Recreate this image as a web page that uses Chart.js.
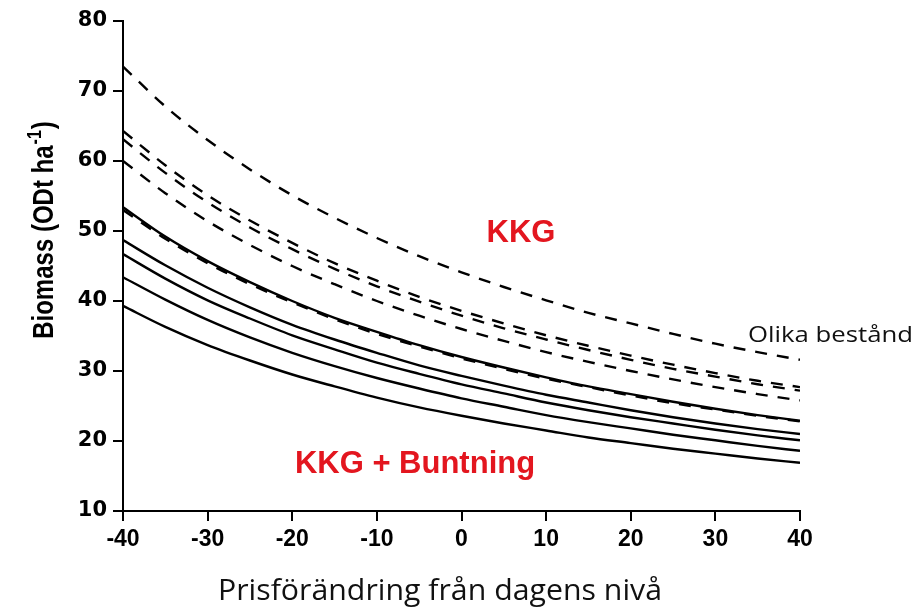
<!DOCTYPE html>
<html><head><meta charset="utf-8">
<script src="https://cdn.jsdelivr.net/npm/chart.js@4"></script>
<style>html,body{margin:0;padding:0;background:#fff}#wrap{width:917px;height:608px}</style>
</head><body><div id="wrap"><canvas id="c" width="917" height="608"></canvas></div>
<script>
// Price change from today's level (%)
const xValues = [-40,-35,-30,-25,-20,-15,-10,-5,0,5,10,15,20,25,30,35,40];
// KKG (dashed) – different stands
const kkg1 = [73.5,67.8,63.0,58.8,55.1,51.9,49.0,46.4,44.1,42.0,40.1,38.3,36.8,35.3,33.9,32.7,31.6];
const kkg2 = [64.3,59.4,55.1,51.5,48.3,45.4,42.9,40.6,38.6,36.8,35.1,33.6,32.2,30.9,29.7,28.6,27.7];
const kkg3 = [63.1,58.3,54.1,50.5,47.4,44.6,42.1,39.9,37.9,36.1,34.5,33.0,31.6,30.3,29.2,28.1,27.2];
const kkg4 = [60.0,55.4,51.4,48.0,45.0,42.4,40.0,37.9,36.0,34.3,32.7,31.3,30.0,28.8,27.7,26.7,25.8];
const kkg5 = [53.0,48.9,45.4,42.4,39.8,37.4,35.3,33.5,31.8,30.3,28.9,27.7,26.5,25.4,24.5,23.6,22.8];
// KKG + Buntning (solid)
const bunt1 = [53.4,49.2,45.7,42.7,40.0,37.6,35.6,33.7,32.0,30.5,29.1,27.8,26.7,25.6,24.6,23.7,22.9];
const bunt2 = [48.7,45.1,41.9,39.1,36.6,34.5,32.6,30.8,29.3,27.9,26.6,25.5,24.4,23.4,22.5,21.7,21.0];
const bunt3 = [46.7,43.2,40.1,37.5,35.1,33.1,31.2,29.6,28.1,26.8,25.5,24.4,23.4,22.5,21.6,20.8,20.1];
const bunt4 = [43.4,40.2,37.3,34.8,32.6,30.7,29.0,27.5,26.1,24.9,23.7,22.7,21.8,20.9,20.1,19.3,18.6];
const bunt5 = [39.3,36.3,33.7,31.5,29.5,27.8,26.2,24.8,23.6,22.5,21.5,20.5,19.7,18.9,18.2,17.5,16.9];
const xTickLabels = ['-40','-30','-20','-10','0','10','20','30','40'];
const yTickLabels = ['10','20','30','40','50','60','70','80'];

const dashedSeries = [kkg1,kkg2,kkg3,kkg4,kkg5];
const solidSeries = [bunt1,bunt2,bunt3,bunt4,bunt5];
const toPts = arr => arr.map((v,i)=>({x:xValues[i], y:v}));
const datasets = [];
solidSeries.forEach((s,i)=>datasets.push({label:'KKG + Buntning '+(i+1), data:toPts(s), borderColor:'#000', borderWidth:2.4, pointRadius:0, cubicInterpolationMode:'monotone', fill:false}));
dashedSeries.forEach((s,i)=>datasets.push({label:'KKG '+(i+1), data:toPts(s), borderColor:'#000', borderWidth:2.4, borderDash:[12,10], pointRadius:0, cubicInterpolationMode:'monotone', fill:false}));

const RED = '#E3161F';
function fitText(ctx, text, x, y, width) {
  const w = ctx.measureText(text).width;
  ctx.save();
  ctx.translate(x, y);
  ctx.scale(width / w, 1);
  ctx.fillText(text, 0, 0);
  ctx.restore();
}
const textPlugin = {
  id: 'texts',
  afterDraw(chart) {
    const ctx = chart.ctx;
    ctx.save();
    ctx.fillStyle = RED;
    ctx.textBaseline = 'alphabetic';
    ctx.textAlign = 'center';
    ctx.font = 'bold 31px "Liberation Sans", Arial, sans-serif';
    ctx.fillText('KKG', 521, 242);
    ctx.fillText('KKG + Buntning', 415, 473);
    ctx.fillStyle = '#111';
    ctx.textAlign = 'left';
    ctx.font = '22px "Open Sans", sans-serif';
    fitText(ctx, 'Olika bestånd', 748, 342, 165);
    ctx.font = '29px "Open Sans", sans-serif';
    fitText(ctx, 'Prisförändring från dagens nivå', 218, 600, 444);
    // Y title rotated
    ctx.fillStyle = '#000';
    ctx.translate(53, 230);
    ctx.rotate(-Math.PI/2);
    ctx.scale(1, 1.25);
    const main = 'Biomass (ODt ha';
    const sup = '-1';
    const close = ')';
    const fMain = 'bold 24px "Liberation Sans", Arial, sans-serif';
    const fSup = 'bold 16px "Liberation Sans", Arial, sans-serif';
    ctx.font = fMain; const wMain = ctx.measureText(main).width; const wClose = ctx.measureText(close).width;
    ctx.font = fSup; const wSup = ctx.measureText(sup).width;
    const total = wMain + wSup + wClose + 2;
    let x0 = -total/2;
    ctx.textAlign = 'left';
    ctx.font = fMain; ctx.fillText(main, x0, 0);
    ctx.font = fSup; ctx.fillText(sup, x0 + wMain + 1, -10);
    ctx.font = fMain; ctx.fillText(close, x0 + wMain + wSup + 2, 0);
    ctx.restore();
  }
};

new Chart(document.getElementById('c'), {
  type: 'line',
  data: { datasets },
  options: {
    responsive: false,
    animation: false,
    devicePixelRatio: 1,
    layout: { padding: { top: 21, right: 117, left: 0, bottom: 0 } },
    plugins: { legend: { display: false }, tooltip: { enabled: false } },
    scales: {
      x: {
        type: 'linear', min: -40, max: 40,
        ticks: { stepSize: 10, color: '#000', padding: 5, maxRotation: 0,
          font: { family: '"Liberation Sans", Arial, sans-serif', weight: 'bold', size: 23 },
          callback: (v) => xTickLabels[xTickLabels.indexOf(String(v))] },
        grid: { drawOnChartArea: false, drawTicks: true, tickLength: 10, color: '#000', lineWidth: 2 },
        border: { color: '#000', width: 2 },
        afterFit(s) { s.height = 97; }
      },
      y: {
        min: 10, max: 80,
        ticks: { stepSize: 10, color: '#000', padding: 6,
          font: { family: '"DejaVu Sans", sans-serif', weight: 'bold', size: 21 },
          callback: (v) => yTickLabels[yTickLabels.indexOf(String(v))] },
        grid: { drawOnChartArea: false, drawTicks: true, tickLength: 10, color: '#000', lineWidth: 2 },
        border: { color: '#000', width: 2 },
        afterFit(s) { s.width = 123; }
      }
    }
  },
  plugins: [textPlugin]
});
</script>
</body></html>
